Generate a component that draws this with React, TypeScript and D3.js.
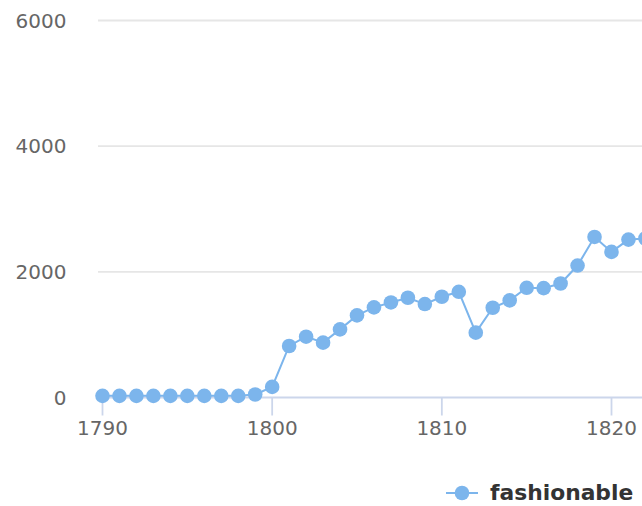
import { useMemo } from "react";
import * as d3 from "d3";

const years = d3.range(1790, 1823);
const fashionable = [
  26, 26, 26, 26, 26, 26, 26, 26, 26, 48, 169, 820, 968, 873, 1084, 1307,
  1434, 1513, 1587, 1487, 1603, 1682, 1032, 1428, 1545, 1746, 1740, 1814,
  2100, 2555, 2317, 2513, 2530,
];
const yTicks = [0, 2000, 4000, 6000];
const xTicks = [1790, 1800, 1810, 1820];
const seriesName = "fashionable";

const width = 642;
const height = 506;
const color = "#7cb5ec";
const font = "'DejaVu Sans', 'Lucida Grande', sans-serif";

export default function App() {
  const x = useMemo(
    () => d3.scaleLinear().domain([1790, 1820]).range([102.5, 611.5]),
    []
  );
  const y = useMemo(
    () => d3.scaleLinear().domain([0, 6000]).range([397.5, 20.5]),
    []
  );

  const line = d3
    .line<number>()
    .x((_, i) => x(years[i]))
    .y((d) => y(d));

  return (
    <div style={{ position: "absolute", left: 0, top: 0 }}>
      <svg width={width} height={height} style={{ display: "block" }}>
        <rect width={width} height={height} fill="#fff" />

        {/* horizontal grid lines + y labels */}
        {yTicks.map((t) => (
          <g key={t}>
            {t !== 0 && (
              <line
                x1={98}
                x2={width}
                y1={y(t)}
                y2={y(t)}
                stroke="#e6e6e6"
                strokeWidth={1.8}
              />
            )}
            <text
              x={66.5}
              y={y(t) + 7.3}
              textAnchor="end"
              fill="#666"
              fontSize={20}
              fontFamily={font}
            >
              {t}
            </text>
          </g>
        ))}

        {/* x axis */}
        <line
          x1={98}
          x2={width}
          y1={y(0)}
          y2={y(0)}
          stroke="#ccd6eb"
          strokeWidth={1.8}
        />
        {xTicks.map((t) => (
          <g key={t}>
            <line
              x1={x(t)}
              x2={x(t)}
              y1={y(0)}
              y2={y(0) + 18}
              stroke="#ccd6eb"
              strokeWidth={1.8}
            />
            <text
              x={x(t)}
              y={434.5}
              textAnchor="middle"
              fill="#666"
              fontSize={20}
              fontFamily={font}
            >
              {t}
            </text>
          </g>
        ))}

        {/* series */}
        <path d={line(fashionable) ?? ""} fill="none" stroke={color} strokeWidth={2} />
        {fashionable.map((v, i) => (
          <circle key={years[i]} cx={x(years[i])} cy={y(v)} r={7.3} fill={color} />
        ))}

        {/* legend */}
        <line x1={446} x2={478} y1={493} y2={493} stroke={color} strokeWidth={2} />
        <circle cx={462} cy={493} r={7.3} fill={color} />
        <text
          x={490}
          y={499.5}
          fill="#333"
          fontSize={21.8}
          fontWeight="bold"
          fontFamily={font}
        >
          {seriesName}
        </text>
      </svg>
    </div>
  );
}
